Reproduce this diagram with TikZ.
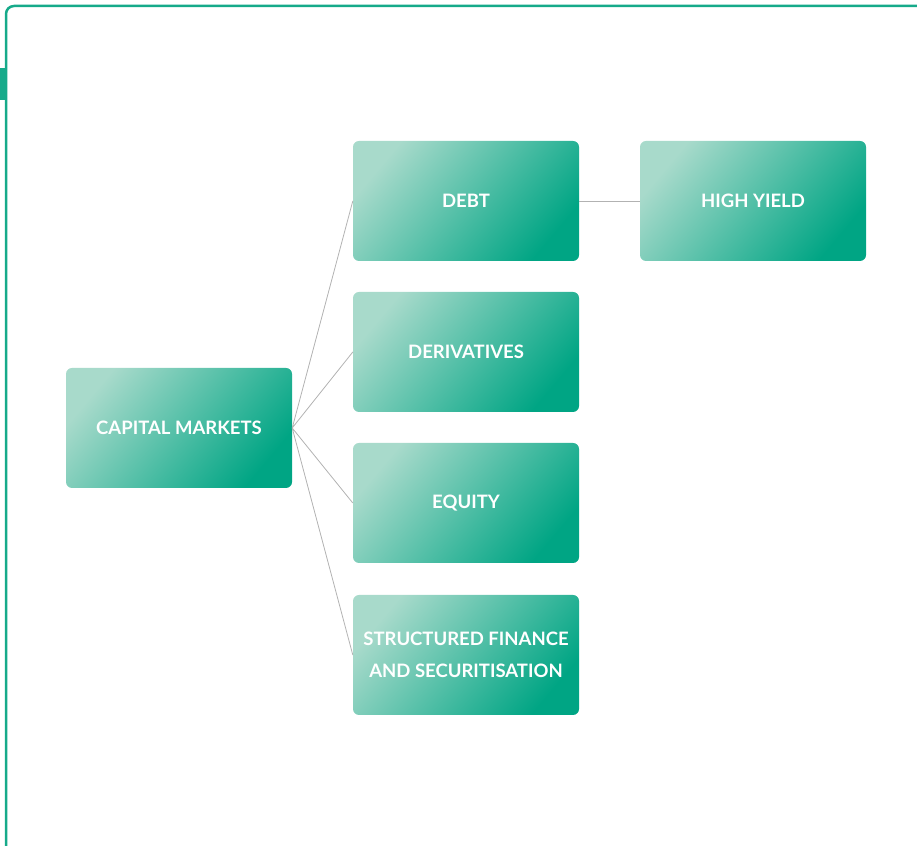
\documentclass[tikz,border=0pt]{standalone}
\usepackage{fontspec}
\setmainfont{Lato}
\usetikzlibrary{positioning}
\definecolor{mint}{HTML}{A8DACB}
\definecolor{tealmid}{HTML}{14B497}
\definecolor{tealdark}{HTML}{00A584}
\definecolor{framecol}{HTML}{16AA8A}
\begin{document}
\begin{tikzpicture}[x=1pt,y=1pt,
  box/.style={rounded corners=6pt,minimum width=226pt,minimum height=120pt,inner sep=0pt,
    top color=mint,middle color=tealmid,bottom color=tealdark,shading angle=50,
    text=white,align=center,font=\bfseries\fontsize{18.5}{32}\selectfont},
  link/.style={draw=black!30,line width=0.8pt}]
\useasboundingbox (0,0) rectangle (917,845);
\clip (0,0) rectangle (917,845);
% frame
\draw[framecol,line width=2.5pt,rounded corners=8pt](6,-5)--(6,839)--(925,839);
\fill[framecol](0,745) rectangle (6,777);
% boxes
\node[box](cm) at (179,417) {CAPITAL MARKETS};
\node[box](debt) at (466,644) {DEBT};
\node[box](hy) at (753,644) {HIGH YIELD};
\node[box](deriv) at (466,493) {DERIVATIVES};
\node[box](eq) at (466,342) {EQUITY};
\node[box](sf) at (466,190) {STRUCTURED FINANCE\\AND SECURITISATION};
% links
\draw[link](cm.east)--(debt.west)(cm.east)--(deriv.west)(cm.east)--(eq.west)(cm.east)--(sf.west);
\draw[link](debt.east)--(hy.west);
\end{tikzpicture}
\end{document}
